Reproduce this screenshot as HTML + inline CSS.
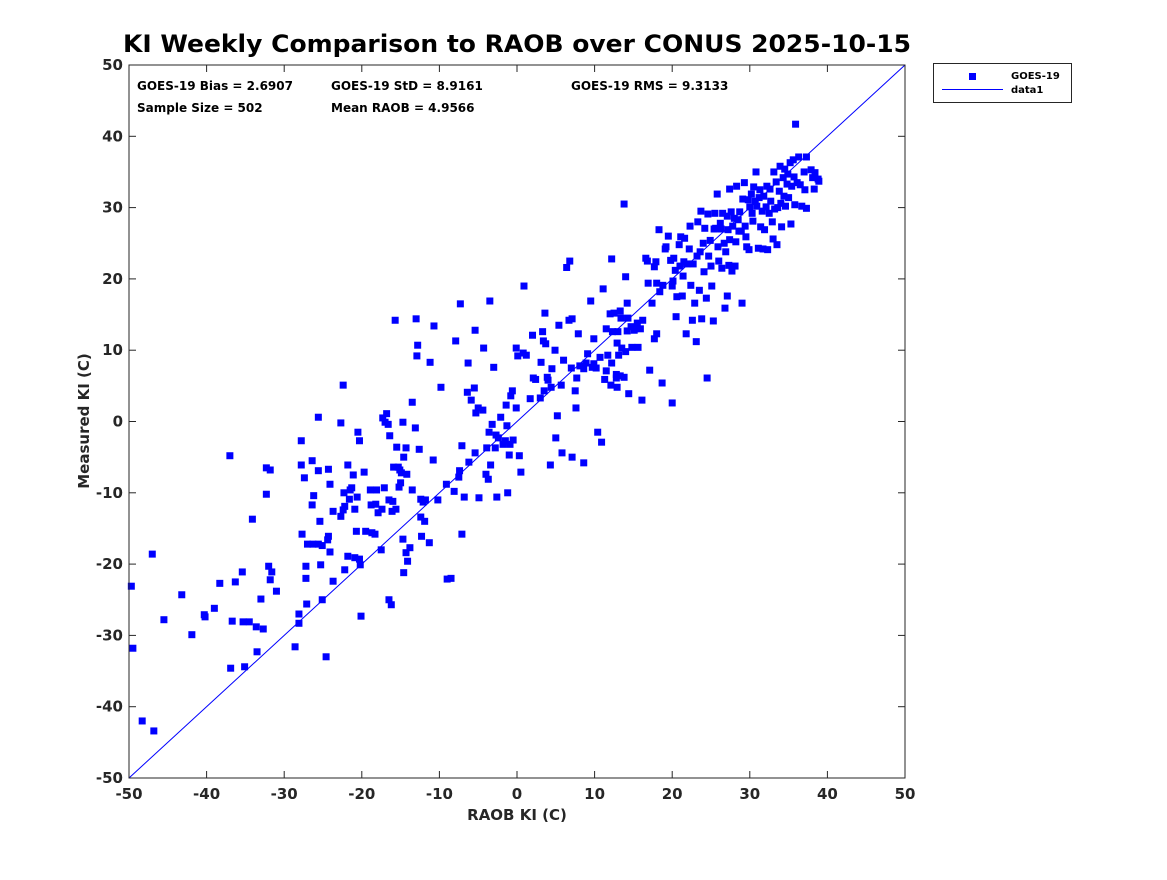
<!DOCTYPE html>
<html><head><meta charset="utf-8"><style>
html,body{margin:0;padding:0;background:#fff;}
svg text{font-family:"DejaVu Sans","Liberation Sans",sans-serif;font-weight:bold;fill:#262626;}
</style></head><body>
<svg id="chart" width="1167" height="875" viewBox="0 0 1167 875" xmlns="http://www.w3.org/2000/svg">
<text x="517" y="52" font-size="24" text-anchor="middle" textLength="788" lengthAdjust="spacingAndGlyphs" style="fill:#000">KI Weekly Comparison to RAOB over CONUS 2025-10-15</text>
<g id="plot"></g>
<text x="137" y="90" font-size="12" style="fill:#000">GOES-19 Bias = 2.6907</text>
<text x="331" y="90" font-size="12" style="fill:#000">GOES-19 StD = 8.9161</text>
<text x="571" y="90" font-size="12" style="fill:#000">GOES-19 RMS = 9.3133</text>
<text x="137" y="112" font-size="12" style="fill:#000">Sample Size = 502</text>
<text x="331" y="112" font-size="12" style="fill:#000">Mean RAOB = 4.9566</text>
<text x="517" y="820" font-size="15" text-anchor="middle">RAOB KI (C)</text>
<text x="0" y="0" font-size="15" text-anchor="middle" transform="translate(89,421) rotate(-90)">Measured KI (C)</text>
<g>
<rect x="933.5" y="63.5" width="138" height="39" fill="#fff" stroke="#262626" stroke-width="1"/>
<rect x="969" y="73" width="7" height="7" fill="#0000ff"/>
<text x="1011" y="79" font-size="10" style="fill:#000">GOES-19</text>
<line x1="942" y1="89.5" x2="1003" y2="89.5" stroke="#0000ff" stroke-width="1"/>
<text x="1011" y="93" font-size="10" style="fill:#000">data1</text>
</g>
</svg>
<script>
const xTicks=[-50,-40,-30,-20,-10,0,10,20,30,40,50];
const yTicks=[-50,-40,-30,-20,-10,0,10,20,30,40,50];
const raobX=[-49.7,-49.5,-48.3,-46.8,-47,-45.5,-43.2,-41.9,-40.3,-40.2,-39,-38.3,-37,-36.7,-36.3,-36.9,-35.4,-35.3,-35.1,-34.5,-34.1,-33.6,-33.5,-33,-32.7,-32.3,-32.3,-32,-31.8,-31.8,-31.6,-31,-28.6,-28.1,-28.1,-27.8,-27.8,-27.7,-27.4,-27.2,-27.2,-27.1,-27,-26.4,-26.4,-26.3,-26.2,-25.6,-25.6,-25.6,-25.4,-25.3,-25.1,-25.1,-24.6,-24.4,-24.3,-24.3,-24.1,-24.1,-23.7,-23.7,-22.4,-22.7,-22.7,-22.4,-22.3,-22.2,-22.2,-21.8,-21.8,-21.6,-21.5,-21.3,-21.1,-20.9,-20.9,-20.7,-20.6,-20.5,-20.3,-20.3,-20.2,-20.1,-19.7,-19.5,-18.9,-18.8,-18.7,-18.3,-18.2,-18.1,-17.9,-17.5,-17.4,-17.3,-17.1,-17,-16.8,-16.6,-16.5,-16.5,-16.4,-16.2,-16.1,-16,-15.9,-15.7,-15.6,-15.5,-15.3,-15.2,-15.1,-15,-14.9,-14.7,-14.7,-14.6,-14.6,-14.3,-14.3,-14.2,-14.1,-13.8,-13.5,-13.5,-13.1,-13,-12.9,-12.8,-12.6,-12.4,-12.4,-12.3,-12.1,-11.9,-11.8,-11.3,-11.2,-10.8,-10.7,-10.2,-9.8,-9.1,-9,-8.5,-8.1,-7.9,-7.5,-7.4,-7.3,-7.1,-7.1,-6.8,-6.4,-6.3,-6.2,-5.9,-5.5,-5.4,-5.4,-5.3,-5,-4.9,-4.4,-4.3,-4,-3.9,-3.7,-3.6,-3.5,-3.4,-3.2,-3,-2.8,-2.7,-2.6,-2.4,-2.1,-1.8,-1.5,-1.4,-1.3,-1.2,-1,-0.9,-0.8,-0.6,-0.5,-0.1,-0.1,0.1,0.3,0.5,0.8,0.9,1.2,1.7,2,2.1,2.4,3,3.1,3.3,3.4,3.5,3.6,3.7,3.9,4,4.3,4.4,4.5,4.9,5,5.2,5.4,5.7,5.8,6,6.4,6.8,6.7,7,7.1,7.1,7.5,7.6,7.7,7.9,8.1,8.6,8.6,8.9,9.1,9.5,9.7,9.9,9.9,10.2,10.4,10.7,10.9,11.1,11.3,11.5,11.5,11.7,12,12.1,12.2,12.2,12.3,12.5,12.8,12.8,12.9,12.9,13,13.1,13.3,13.3,13.4,13.5,13.8,13.8,14,14,14.2,14.2,14.3,14.4,14.7,14.8,15.1,15.2,15.5,15.6,15.9,16.1,16.2,16.6,16.8,16.9,17.1,17.4,17.7,17.7,17.9,18,18,18.3,18.4,18.7,18.8,19.1,19.2,19.5,19.8,20,20,20.1,20.2,20.4,20.5,20.6,20.9,21,21.1,21.3,21.4,21.5,21.6,21.8,21.9,22.2,22.3,22.4,22.6,22.7,22.9,23.1,23.2,23.3,23.5,23.6,23.7,23.8,24,24.1,24.2,24.4,24.5,24.6,24.7,24.9,25,25.1,25.3,25.4,25.5,25.6,25.8,25.9,26,26.2,26.3,26.4,26.5,26.7,26.8,26.9,27.1,27.1,27.2,27.3,27.4,27.4,27.6,27.7,27.8,28,28.1,28.2,28.3,28.5,28.6,28.7,28.9,29,29.1,29.3,29.4,29.5,29.6,29.8,29.9,30,30.2,30.3,30.4,30.5,30.7,30.8,30.9,31.1,31.2,31.3,31.4,31.6,31.7,31.8,31.9,32.1,32.2,32.3,32.5,32.6,32.7,32.9,33,33.1,33.2,33.4,33.5,33.6,33.8,33.9,34,34.1,34.3,34.4,34.5,34.6,34.8,34.9,35,35.2,35.3,35.4,35.6,35.7,35.8,35.9,36.1,36.3,36.5,36.7,37,37.1,37.3,37.3,37.9,38.1,38.3,38.4,38.8,38.9];
const measuredY=[-23.1,-31.8,-42,-43.4,-18.6,-27.8,-24.3,-29.9,-27.1,-27.4,-26.2,-22.7,-4.8,-28,-22.5,-34.6,-21.1,-28.1,-34.4,-28.1,-13.7,-28.8,-32.3,-24.9,-29.1,-6.5,-10.2,-20.3,-6.8,-22.2,-21.1,-23.8,-31.6,-27,-28.3,-2.7,-6.1,-15.8,-7.9,-22,-20.3,-25.6,-17.2,-5.5,-11.7,-17.2,-10.4,-17.2,-6.9,0.6,-14,-20.1,-25,-17.4,-33,-16.6,-16.1,-6.7,-8.8,-18.3,-22.4,-12.6,5.1,-0.2,-13.3,-12.4,-10,-20.8,-11.9,-6.1,-18.9,-10.9,-9.6,-9.3,-7.5,-19.1,-12.3,-15.4,-10.6,-1.5,-2.7,-19.3,-20.1,-27.3,-7.1,-15.4,-9.6,-11.7,-15.6,-15.8,-11.6,-9.6,-12.8,-18,-12.3,0.5,-9.3,-0.1,1.1,-0.4,-11,-25,-2,-25.7,-12.6,-11.2,-6.4,14.2,-12.3,-3.6,-6.4,-9.2,-6.8,-8.6,-7.2,-0.1,-16.5,-21.2,-5,-18.4,-3.7,-7.4,-19.6,-17.7,-9.6,2.7,-0.9,14.4,9.2,10.7,-3.9,-10.9,-13.4,-16.1,-11.3,-14,-11,-17,8.3,-5.4,13.4,-11,4.8,-8.8,-22.1,-22,-9.8,11.3,-7.8,-6.9,16.5,-15.8,-3.4,-10.6,4.1,8.2,-5.7,3,4.7,-4.4,12.8,1.2,1.9,-10.7,1.6,10.3,-7.4,-3.7,-8.1,-1.5,16.9,-6.1,-0.4,7.6,-3.7,-1.9,-10.6,-2.3,0.6,-3.2,-2.7,2.3,-0.6,-10,-4.7,-3.2,3.6,4.3,-2.6,10.3,1.9,9.2,-4.8,-7.1,9.6,19,9.3,3.2,12.1,6.1,5.9,3.3,8.3,12.6,11.3,4.3,15.2,10.9,6.2,5.8,-6.1,4.8,7.4,10,-2.3,0.8,13.5,5.1,-4.4,8.6,21.6,22.5,14.2,7.5,-5,14.4,4.3,1.9,6.1,12.3,7.8,7.4,-5.8,8.2,9.5,16.9,7.6,11.6,8.1,7.5,-1.5,9,-2.9,18.6,5.9,7.1,13,9.3,15.1,5.1,22.8,8.2,12.6,15.2,6.6,6.1,11,4.8,12.6,9.3,15.5,6.4,14.5,10.3,6.2,30.5,9.8,20.3,12.7,16.6,14.5,3.9,13.3,10.4,12.8,13,13.8,10.4,13,3,14.2,22.9,22.5,19.4,7.2,16.6,21.7,11.6,22.4,19.4,12.3,26.9,18.2,5.4,19.1,24.2,24.5,26,22.6,19,2.6,19.7,22.9,21.2,14.7,17.5,24.8,21.8,25.9,17.6,20.4,22.4,25.7,12.3,22.1,24.2,27.4,19.1,14.2,22.1,16.6,11.2,23.2,28,18.4,23.8,29.5,14.4,25,21,27.1,17.3,6.1,29.1,23.2,25.4,21.8,19,14.1,27,29.2,27.1,31.9,24.5,22.5,27.8,27,21.5,29.2,25,15.9,23.8,17.6,28.8,26.9,21.9,32.6,25.5,29.4,21.1,27.4,28.5,21.8,25.2,33,28.3,26.7,29.4,26.7,16.6,31.2,33.5,27.4,25.9,24.5,31.1,24.1,30.1,31.9,29.2,28.1,32.9,30.9,35,30.2,24.3,31.4,32.5,27.3,29.5,24.2,31.6,26.9,30.1,33,24.1,29.2,32.6,30.9,28,25.6,35,29.8,33.6,24.8,30,32.3,35.8,30.6,27.3,34.2,31.6,35.4,30.2,33.3,34.7,31.4,36.3,27.7,33,36.7,34.3,30.4,41.7,33.5,37.1,33.2,30.2,35,32.5,37.1,29.9,35.3,34.2,32.6,34.9,34,33.7];
const lineX=[-50,50];
const lineY=[-50,50];

const NS="http://www.w3.org/2000/svg";
const L=129,R=905,T=65,B=778;
const xs=v=>L+(v+50)/100*(R-L);
const ys=v=>B-(v+50)/100*(B-T);
const plot=document.getElementById('plot');
function mk(tag,attrs){const e=document.createElementNS(NS,tag);for(const k in attrs)e.setAttribute(k,attrs[k]);plot.appendChild(e);return e;}

const bg=mk('rect',{x:L,y:T,width:R-L,height:B-T,fill:'#fff'});



const ln=mk('line',{x1:xs(lineX[0]),y1:ys(lineY[0]),x2:xs(lineX[1]),y2:ys(lineY[1]),stroke:'#0000ff','stroke-width':1});



for(let i=0;i<raobX.length;i++){
  const r=mk('rect',{x:xs(raobX[i])-3.5,y:ys(measuredY[i])-3.5,width:7,height:7,fill:'#0000ff'});
  
  
}

const box=mk('rect',{x:L,y:T,width:R-L,height:B-T,fill:'none',stroke:'#262626','stroke-width':1});



xTicks.forEach(v=>{
  const x=xs(v);
  const t1=mk('line',{x1:x,y1:B,x2:x,y2:B-7,stroke:'#262626'});
  
  
  const t2=mk('line',{x1:x,y1:T,x2:x,y2:T+7,stroke:'#262626'});
  
  
  const tx=mk('text',{x:x,y:B+21,'font-size':15,'text-anchor':'middle'});
  tx.textContent=String(v);
  
  
});
yTicks.forEach(v=>{
  const y=ys(v);
  const t1=mk('line',{x1:L,y1:y,x2:L+7,y2:y,stroke:'#262626'});
  
  
  const t2=mk('line',{x1:R,y1:y,x2:R-7,y2:y,stroke:'#262626'});
  
  
  const tx=mk('text',{x:L-6,y:y+5,'font-size':15,'text-anchor':'end'});
  tx.textContent=String(v);
  
  
});
</script>
</body></html>
